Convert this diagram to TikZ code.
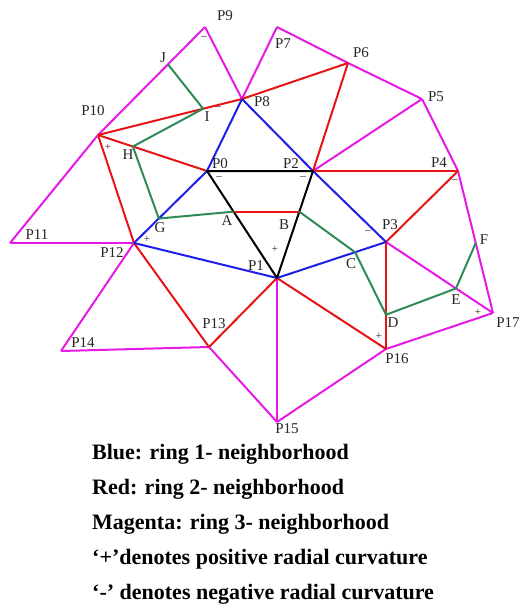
\documentclass[tikz,border=0pt]{standalone}
\usepackage{fontspec}
\setmainfont{Liberation Serif}
\usepackage{tikz}
\usetikzlibrary{calc}
\definecolor{ringone}{HTML}{1E1EE6}
\definecolor{ringtwo}{HTML}{E61414}
\definecolor{ringthree}{HTML}{E619E6}
\definecolor{contourgreen}{HTML}{2E8B57}
\definecolor{lblink}{HTML}{262626}
\tikzset{
  core/.style={draw=black,line width=2pt,line join=round},
  ring1/.style={draw=ringone,line width=2pt,line join=round},
  ring2/.style={draw=ringtwo,line width=2pt,line join=round},
  ring3/.style={draw=ringthree,line width=2pt,line join=round},
  contour/.style={draw=contourgreen,line width=2pt,line join=round},
  ptlabel/.style={font=\fontsize{15}{15}\selectfont,text=lblink,inner sep=0pt},
  sign/.style={font=\fontsize{11}{11}\selectfont,text=lblink,inner sep=0pt},
  legend/.style={anchor=base west,font=\fontsize{22}{22}\selectfont\bfseries,inner sep=0pt},
}
\begin{document}
\begin{tikzpicture}[x=1pt,y=-1pt]
  \useasboundingbox (0,0) rectangle (521,607);
  \coordinate (P0) at (207,171);
  \coordinate (P1) at (277,278);
  \coordinate (P2) at (313,171);
  \coordinate (P3) at (386,242);
  \coordinate (P4) at (458,171);
  \coordinate (P5) at (422,99);
  \coordinate (P6) at (348,63);
  \coordinate (P7) at (277,27);
  \coordinate (P8) at (242,99);
  \coordinate (P9) at (205,27);
  \coordinate (P10) at (98,135);
  \coordinate (P11) at (10,243);
  \coordinate (P12) at (134,243);
  \coordinate (P13) at (209,347);
  \coordinate (P14) at (61,351);
  \coordinate (P15) at (277,422);
  \coordinate (P16) at (386,349);
  \coordinate (P17) at (493,313);
  \coordinate (J) at ($(P10)!0.654!(P9)$);
  \coordinate (I) at ($(P10)!0.73!(P8)$);
  \coordinate (H) at ($(P10)!0.32!(P0)$);
  \coordinate (G) at ($(P0)!0.66!(P12)$);
  \coordinate (A) at ($(P0)!0.38!(P1)$);
  \coordinate (B) at ($(P2)!0.38!(P1)$);
  \coordinate (C) at ($(P1)!0.716!(P3)$);
  \coordinate (D) at ($(P3)!0.68!(P16)$);
  \coordinate (E) at ($(P3)!0.654!(P17)$);
  \coordinate (F) at ($(P4)!0.507!(P17)$);

  \foreach \a/\b in {P10/P9,P9/P8,P8/P7,P7/P6,P6/P5,P5/P2,P5/P4,P4/P17,P3/P17,P17/P16,
                     P16/P15,P15/P1,P15/P13,P13/P14,P14/P12,P12/P11,P11/P10}
    \draw[ring3] (\a) -- (\b);
  \foreach \a/\b in {P10/P8,P8/P6,P6/P2,P2/P4,P4/P3,P3/P16,P16/P1,P1/P13,P13/P12,
                     P12/P10,P10/P0}
    \draw[ring2] (\a) -- (\b);
  \foreach \a/\b in {P0/P8,P8/P2,P2/P3,P3/P1,P1/P12,P12/P0}
    \draw[ring1] (\a) -- (\b);
  \draw[core] (P0) -- (P2) -- (P1) -- cycle;
  \draw[contour] (J) -- (I) -- (H) -- (G) -- (A);
  \draw[contour] (B) -- (C) -- (D) -- (E) -- (F);
  \draw[ring2] (A) -- (B);

  \node[ptlabel] (tP0) at (220,164) {P0};
  \node[ptlabel] (tP1) at (256,266) {P1};
  \node[ptlabel] (tP2) at (291,164) {P2};
  \node[ptlabel] (tP3) at (390,225) {P3};
  \node[ptlabel] (tP4) at (439,163) {P4};
  \node[ptlabel] (tP5) at (436,97) {P5};
  \node[ptlabel] (tP6) at (361,53) {P6};
  \node[ptlabel] (tP7) at (283,44) {P7};
  \node[ptlabel] (tP8) at (262,102) {P8};
  \node[ptlabel] (tP9) at (225,16) {P9};
  \node[ptlabel] (tP10) at (93,111) {P10};
  \node[ptlabel] (tP11) at (37,235) {P11};
  \node[ptlabel] (tP12) at (112,253) {P12};
  \node[ptlabel] (tP13) at (214,324) {P13};
  \node[ptlabel] (tP14) at (83,343) {P14};
  \node[ptlabel] (tP15) at (287,429) {P15};
  \node[ptlabel] (tP16) at (397,359) {P16};
  \node[ptlabel] (tP17) at (508,323) {P17};
  \node[ptlabel] (tJ) at (163,58) {J};
  \node[ptlabel] (tI) at (207,117) {I};
  \node[ptlabel] (tH) at (128,155) {H};
  \node[ptlabel] (tG) at (160,228) {G};
  \node[ptlabel] (tA) at (227,221) {A};
  \node[ptlabel] (tB) at (284,225) {B};
  \node[ptlabel] (tC) at (351,264) {C};
  \node[ptlabel] (tD) at (393,323) {D};
  \node[ptlabel] (tE) at (456,300) {E};
  \node[ptlabel] (tF) at (484,240) {F};

  \node[sign] (s9) at (204,38) {–};
  \node[sign] (s8) at (218,108) {–};
  \node[sign] (s10) at (108,147) {+};
  \node[sign] (s0) at (219,178) {–};
  \node[sign] (s2) at (303,178) {–};
  \node[sign] (s1) at (275,249) {+};
  \node[sign] (s3) at (368,232) {–};
  \node[sign] (s12) at (147,239) {+};
  \node[sign] (s4) at (455,181) {–};
  \node[sign] (s17) at (478,312) {+};
  \node[sign] (s16) at (379,336) {+};

  \node[legend] (leg1) at (92,459) {Blue: ring 1- neighborhood};
  \node[legend] (leg2) at (92,494) {Red: ring 2- neighborhood};
  \node[legend] (leg3) at (92,529) {Magenta: ring 3- neighborhood};
  \node[legend] (leg4) at (92,564) {‘+’denotes positive radial curvature};
  \node[legend] (leg5) at (92,599) {‘-’ denotes negative radial curvature};
\end{tikzpicture}
\end{document}
